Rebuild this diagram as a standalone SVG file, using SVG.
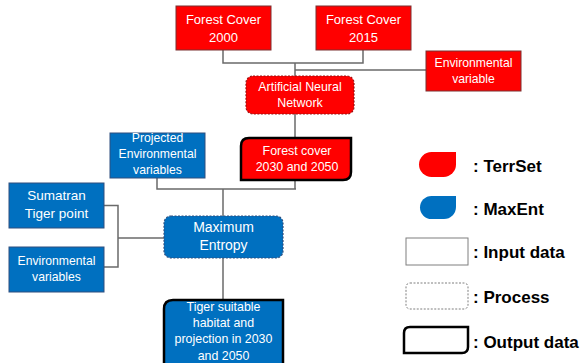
<svg xmlns="http://www.w3.org/2000/svg" width="587" height="363" viewBox="0 0 587 363">
<style>
text{font-family:"Liberation Sans",Arial,sans-serif;fill:#fff;text-anchor:middle}
.r{fill:#ff0000;stroke:#7a3030;stroke-width:1}
.b{fill:#0070c0;stroke:#2f4f7f;stroke-width:1}
.rp{fill:#ff0000;stroke:#9a1010;stroke-width:1.2;stroke-dasharray:2 1.5}
.bp{fill:#0070c0;stroke:#2f4f7f;stroke-width:1.2;stroke-dasharray:2 1.5}
.out{stroke:#000;stroke-width:2.5}
.c{fill:none;stroke:#6a6a6a;stroke-width:1.5}
.lg{fill:#000;text-anchor:start;font-weight:bold;font-size:17px}
</style>
<rect width="587" height="363" fill="#fff"/>
<g id="connectors">
<polyline class="c" points="223,50 223,63 363,63 363,50"/>
<line class="c" x1="295" y1="63" x2="295" y2="76"/>
<line class="c" x1="295" y1="70" x2="426" y2="70"/>
<line class="c" x1="295" y1="114" x2="295" y2="189"/>
<polyline class="c" points="157,178 157,189 296,189"/>
<line class="c" x1="223" y1="189" x2="223" y2="216"/>
<polyline class="c" points="104,205.5 118,205.5 118,267 104,267"/>
<line class="c" x1="118" y1="238" x2="164" y2="238"/>
<line class="c" x1="223" y1="258" x2="223" y2="300"/>
</g>
<g id="fc2000">
<rect class="r" x="176" y="6" width="95" height="44"/>
<text font-size="13" x="223.5" y="24">Forest Cover</text>
<text font-size="13" x="223.5" y="42">2000</text>
</g>
<g id="fc2015">
<rect class="r" x="316" y="6" width="95" height="44"/>
<text font-size="13" x="363.5" y="24">Forest Cover</text>
<text font-size="13" x="363.5" y="42">2015</text>
</g>
<g id="envvar">
<rect class="r" x="426" y="51" width="95" height="40"/>
<text font-size="12.2" x="473.5" y="67">Environmental</text>
<text font-size="12.2" x="473.5" y="83">variable</text>
</g>
<g id="ann">
<rect class="rp" x="246" y="76" width="108" height="38" rx="7"/>
<text font-size="12.4" x="300" y="91">Artificial Neural</text>
<text font-size="12.4" x="300" y="107">Network</text>
</g>
<g id="fc2030">
<path class="r out" d="M249,138 H351 V172 Q351,180 343,180 H241 V146 Q241,138 249,138 Z"/>
<text font-size="12.4" x="297" y="155">Forest cover</text>
<text font-size="12.4" x="297" y="171">2030 and 2050</text>
</g>
<g id="projected">
<rect class="b" x="110" y="133" width="95" height="45"/>
<text font-size="12.2" x="157.5" y="142">Projected</text>
<text font-size="12.2" x="157.5" y="158">Environmental</text>
<text font-size="12.2" x="157.5" y="173.5">variables</text>
</g>
<g id="sumatran">
<rect class="b" x="9" y="183" width="95" height="45"/>
<text font-size="13.5" x="56.5" y="200">Sumatran</text>
<text font-size="13.5" x="56.5" y="218">Tiger point</text>
</g>
<g id="envvars">
<rect class="b" x="9" y="247" width="95" height="45"/>
<text font-size="12.2" x="56.5" y="264.5">Environmental</text>
<text font-size="12.2" x="56.5" y="281">variables</text>
</g>
<g id="maxent">
<rect class="bp" x="164" y="216" width="119" height="42" rx="7"/>
<text font-size="14" x="223.5" y="232">Maximum</text>
<text font-size="14" x="223.5" y="250">Entropy</text>
</g>
<g id="tiger">
<path class="b out" d="M173,300 H283 V370 H164 V309 Q164,300 173,300 Z"/>
<text font-size="12.4" x="223.5" y="311">Tiger suitable</text>
<text font-size="12.4" x="223.5" y="327">habitat and</text>
<text font-size="12.4" x="223.5" y="343">projection in 2030</text>
<text font-size="12.4" x="223.5" y="359.5">and 2050</text>
</g>
<g id="legend">
<path d="M431.5,152 H456 V164.5 A12.5,12.5 0 0 1 443.5,177 H431.5 A12.5,12.5 0 0 1 431.5,152 Z" fill="#ff0000"/>
<text class="lg" x="473" y="172">: TerrSet</text>
<path d="M431.5,196 H456 V207 A12,12 0 0 1 444,219 H431.5 A11.5,11.5 0 0 1 431.5,196 Z" fill="#0070c0"/>
<text class="lg" x="473" y="215">: MaxEnt</text>
<rect x="406" y="238" width="62" height="27" fill="#fff" stroke="#7f7f7f" stroke-width="1"/>
<text class="lg" x="473" y="258">: Input data</text>
<rect x="406" y="283" width="62" height="26" rx="4" fill="#fff" stroke="#7f7f7f" stroke-width="1" stroke-dasharray="2 1.5"/>
<text class="lg" x="473" y="303">: Process</text>
<path d="M410,327 H468 V347 Q468,353 462,353 H404 V333 Q404,327 410,327 Z" fill="#fff" stroke="#000" stroke-width="2.5"/>
<text class="lg" x="473" y="348">: Output data</text>
</g>
</svg>
